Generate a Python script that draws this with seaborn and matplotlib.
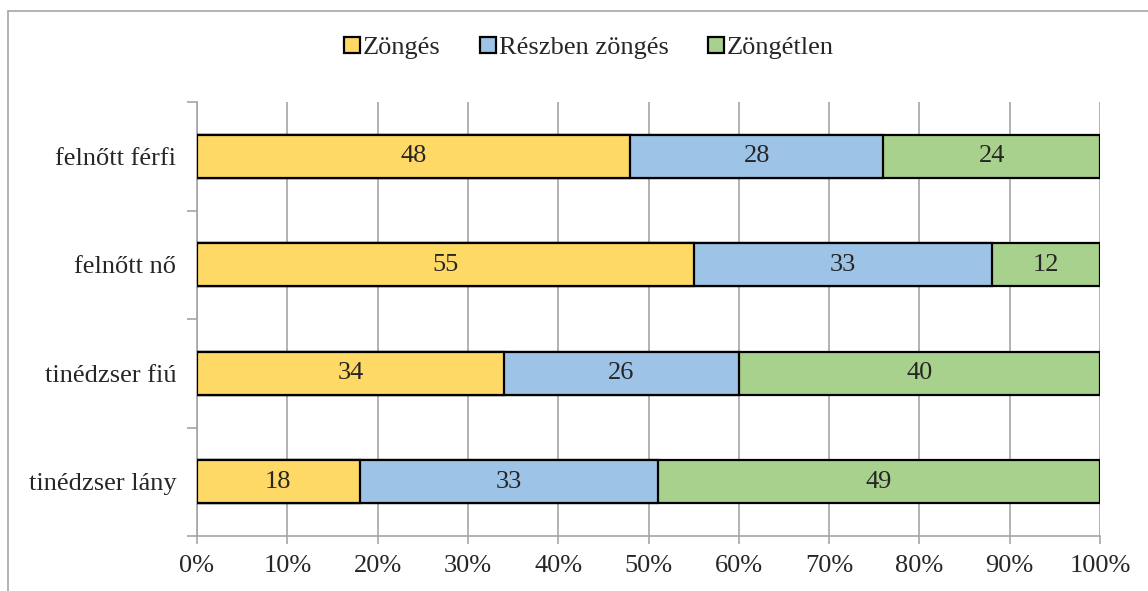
import pandas as pd
import matplotlib.pyplot as plt
import seaborn as sns
from matplotlib.patches import Patch
from matplotlib.lines import Line2D

# Adatok
kategoriak = ['felnőtt férfi', 'felnőtt nő', 'tinédzser fiú', 'tinédzser lány']
zonges = [48, 55, 34, 18]
reszben = [28, 33, 26, 33]
zongetlen = [24, 12, 40, 49]
sorozatok = ['Zöngés', 'Részben zöngés', 'Zöngétlen']
szinek = ['#FFD966', '#9DC3E6', '#A9D18E']

df = pd.DataFrame({'kat': kategoriak, 'Zöngés': zonges,
                   'Részben zöngés': reszben, 'Zöngétlen': zongetlen})
# kumulalt ertekek a halmozott savokhoz (szazalekban)
df['c1'] = df['Zöngés']
df['c2'] = df['c1'] + df['Részben zöngés']
df['c3'] = df['c2'] + df['Zöngétlen']

sns.set_style('white')
plt.rcParams['font.family'] = ['Liberation Serif', 'DejaVu Serif']
FS = 19

fig = plt.figure(figsize=(11.48, 5.91), dpi=100)
ax = fig.add_axes([197 / 1148, 1 - 536 / 591, 903 / 1148, 434 / 591])

# hatulrol elore rajzolva: legnagyobb kumulalt ertek elol
for col, szin in zip(['c3', 'c2', 'c1'], szinek[::-1]):
    sns.barplot(data=df, x=col, y='kat', orient='h', color=szin, saturation=1,
                edgecolor='black', linewidth=1.6, width=0.4, ax=ax, zorder=3)

# ertekcimkek
for i, row in df.iterrows():
    start = 0
    for s in sorozatok:
        v = row[s]
        ax.text(start + v / 2, i, str(v), ha='center', va='center',
                fontsize=FS, zorder=5)
        start += v

ax.set_xlim(0, 100)
ax.set_ylim(3.5, -0.5)
ax.set_xticks(range(0, 101, 10))
ax.set_xticklabels([f'{t}%' for t in range(0, 101, 10)], fontsize=FS)
ax.tick_params(axis='y', which='major', labelsize=FS, length=0, pad=15)
ax.tick_params(axis='x', bottom=True, length=6, width=1.2, color='#A6A6A6',
               direction='out', pad=8)
ax.set_xlabel('')
ax.set_ylabel('')
ax.xaxis.grid(True, color='#A6A6A6', linewidth=1.2, zorder=0)
ax.set_axisbelow(True)
for sp in ['top', 'right']:
    ax.spines[sp].set_visible(False)
for sp in ['left', 'bottom']:
    ax.spines[sp].set_color('#A6A6A6')
    ax.spines[sp].set_linewidth(1.2)

# kis y-iranyu jelolok a kategoriak hatarainal
ax.set_yticks([-0.5, 0.5, 1.5, 2.5, 3.5], minor=True)
ax.tick_params(axis='y', which='minor', left=True, length=7, color='#A6A6A6', width=1.2)

handles = [Patch(facecolor=c, edgecolor='black', linewidth=1.6) for c in szinek]
fig.legend(handles, sorozatok, loc='center', bbox_to_anchor=(589 / 1148, 1 - 48 / 591),
           ncol=3, frameon=False, fontsize=FS, handlelength=0.6, handleheight=0.6,
           handletextpad=0.1, columnspacing=1.5)

# kulso keret
fig.add_artist(Line2D([8 / 1148, 1], [1 - 11 / 591, 1 - 11 / 591],
                      color='#A6A6A6', linewidth=1.2, transform=fig.transFigure))
fig.add_artist(Line2D([8 / 1148, 8 / 1148], [0, 1 - 11 / 591],
                      color='#A6A6A6', linewidth=1.2, transform=fig.transFigure))

fig.savefig('out.png', dpi=100)
